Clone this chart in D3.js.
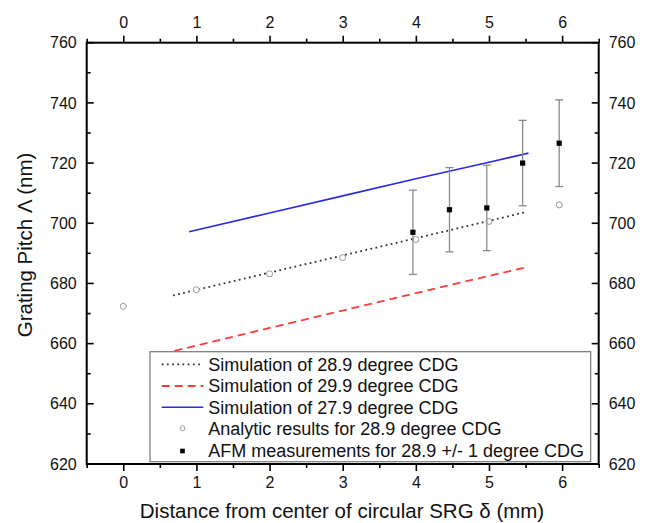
<!DOCTYPE html>
<html>
<head>
<meta charset="utf-8">
<script src="https://cdn.jsdelivr.net/npm/d3@7"></script>
<style>
  html, body { margin: 0; padding: 0; background: #fff; }
  svg { display: block; font-family: "Liberation Sans", Arial, sans-serif; }
</style>
</head>
<body>
<svg id="chart" width="652" height="523"></svg>
<script>
// grating pitch vs distance from centre — three simulated CDG curves,
// analytic points and AFM measurements with error bars

const xTicks = [0, 1, 2, 3, 4, 5, 6];
const yTicks = [620, 640, 660, 680, 700, 720, 740, 760];

const sim289 = [[0.68, 676.0], [2, 683.6], [3, 689.3], [4, 695.0], [5, 700.8], [5.5, 703.7]];
const sim299 = [[0.7, 657.6], [2, 665.2], [3, 671.0], [4, 676.8], [5, 682.5], [5.5, 685.3]];
const sim279 = [[0.9, 697.2], [2, 703.4], [3, 709.1], [4, 714.8], [5, 720.3], [5.54, 723.3]];

const analyticX = [0, 1, 2, 3, 4, 5, 5.96];
const analyticY = [672.4, 677.9, 683.2, 688.6, 694.6, 700.6, 706.1];

const afmX = [3.96, 4.46, 4.97, 5.46, 5.96];
const afmY = [697.0, 704.5, 705.1, 720.0, 726.6];
const afmErr = [14.0, 14.0, 14.2, 14.2, 14.4];

const legendLabels = [
  "Simulation of 28.9 degree CDG",
  "Simulation of 29.9 degree CDG",
  "Simulation of 27.9 degree CDG",
  "Analytic results for 28.9 degree CDG",
  "AFM measurements for 28.9 +/- 1 degree CDG",
];

const svg = d3.select("#chart");
const L = 86.7, R = 598.7, T = 42.7, B = 464;
const x = d3.scaleLinear().domain([-0.5, 6.5]).range([L, R]);
const y = d3.scaleLinear().domain([620, 760]).range([B, T]);

const BLUE = "#2a2ae6", RED = "#ff3b3b", DOT = "#333", GREY = "#8a8a8a";
const tickFont = "16px 'Liberation Sans', Arial, sans-serif";

// axes: x ticks point out, y ticks point in
const xMinor = d3.range(-0.5, 6.51, 0.5);
const yMinor = d3.range(630, 760, 20);

function styleAxis(g) {
  g.select(".domain").remove();
  g.selectAll("line").attr("stroke", "#000").attr("stroke-width", 1.6);
  g.selectAll("text").style("font", tickFont).attr("fill", "#111");
}

svg.append("g").attr("transform", `translate(0,${B})`)
  .call(d3.axisBottom(x).tickValues(xTicks).tickFormat(d3.format("d")).tickSize(7).tickPadding(6))
  .call(styleAxis);
svg.append("g").attr("transform", `translate(0,${T})`)
  .call(d3.axisTop(x).tickValues(xTicks).tickFormat(d3.format("d")).tickSize(7).tickPadding(8))
  .call(styleAxis);
svg.append("g").attr("transform", `translate(0,${B})`)
  .call(d3.axisBottom(x).tickValues(xMinor.filter(v => !xTicks.includes(v))).tickFormat("").tickSize(4))
  .call(styleAxis);
svg.append("g").attr("transform", `translate(0,${T})`)
  .call(d3.axisTop(x).tickValues(xMinor.filter(v => !xTicks.includes(v))).tickFormat("").tickSize(4))
  .call(styleAxis);

svg.append("g").attr("transform", `translate(${L},0)`)
  .call(d3.axisLeft(y).tickValues(yTicks).tickSize(0).tickPadding(10)).call(styleAxis);
svg.append("g").attr("transform", `translate(${R},0)`)
  .call(d3.axisRight(y).tickValues(yTicks).tickSize(0).tickPadding(10)).call(styleAxis);

// inward y ticks
const yTickG = svg.append("g").attr("stroke", "#000").attr("stroke-width", 1.6);
for (const [v, len] of [...yTicks.map(v => [v, 7]), ...yMinor.map(v => [v, 4])]) {
  yTickG.append("line").attr("x1", L).attr("x2", L + len).attr("y1", y(v)).attr("y2", y(v));
  yTickG.append("line").attr("x1", R).attr("x2", R - len).attr("y1", y(v)).attr("y2", y(v));
}

// frame
svg.append("rect").attr("x", L).attr("y", T).attr("width", R - L).attr("height", B - T)
  .attr("fill", "none").attr("stroke", "#000").attr("stroke-width", 2);

// axis titles
svg.append("text").attr("x", 342).attr("y", 518).attr("text-anchor", "middle")
  .style("font", "20.5px 'Liberation Sans', Arial, sans-serif").attr("fill", "#111")
  .text("Distance from center of circular SRG δ (mm)");
svg.append("text").attr("transform", "translate(32,245) rotate(-90)").attr("text-anchor", "middle")
  .style("font", "20.5px 'Liberation Sans', Arial, sans-serif").attr("fill", "#111")
  .text("Grating Pitch Λ (nm)");

// simulation curves
const line = d3.line().x(d => x(d[0])).y(d => y(d[1]));
const plot = svg.append("g");
plot.append("path").attr("d", line(sim299)).attr("fill", "none")
  .attr("stroke", RED).attr("stroke-width", 1.8).attr("stroke-dasharray", "8,5");
plot.append("path").attr("d", line(sim289)).attr("fill", "none")
  .attr("stroke", DOT).attr("stroke-width", 1.8).attr("stroke-dasharray", "1.8,3.4");
plot.append("path").attr("d", line(sim279)).attr("fill", "none")
  .attr("stroke", BLUE).attr("stroke-width", 1.6);

// analytic results
plot.selectAll(".an").data(analyticX).join("circle")
  .attr("cx", d => x(d)).attr("cy", (d, i) => y(analyticY[i])).attr("r", 3)
  .attr("fill", "#fff").attr("stroke", "#999").attr("stroke-width", 1);

// AFM error bars + squares
const eb = plot.append("g").attr("stroke", GREY).attr("stroke-width", 1.3);
afmX.forEach((v, i) => {
  const cx = x(v), y0 = y(afmY[i] - afmErr[i]), y1 = y(afmY[i] + afmErr[i]);
  eb.append("line").attr("x1", cx).attr("x2", cx).attr("y1", y0).attr("y2", y1);
  eb.append("line").attr("x1", cx - 4).attr("x2", cx + 4).attr("y1", y0).attr("y2", y0);
  eb.append("line").attr("x1", cx - 4).attr("x2", cx + 4).attr("y1", y1).attr("y2", y1);
});
plot.selectAll(".afm").data(afmX).join("rect")
  .attr("x", d => x(d) - 2.6).attr("y", (d, i) => y(afmY[i]) - 2.6)
  .attr("width", 5.2).attr("height", 5.2).attr("fill", "#000");

// legend
const lg = svg.append("g");
lg.append("rect").attr("x", 150).attr("y", 351.7).attr("width", 440.7).attr("height", 110)
  .attr("fill", "#fff").attr("stroke", "#777").attr("stroke-width", 1.2);
const rowY = [364.3, 386, 407.3, 428.3, 451];
const lx0 = 161.7, lx1 = 203.3, lxm = 182.5;
lg.append("line").attr("x1", lx0).attr("x2", lx1).attr("y1", rowY[0]).attr("y2", rowY[0])
  .attr("stroke", DOT).attr("stroke-width", 1.8).attr("stroke-dasharray", "1.8,3.4");
lg.append("line").attr("x1", lx0).attr("x2", lx1).attr("y1", rowY[1]).attr("y2", rowY[1])
  .attr("stroke", RED).attr("stroke-width", 1.8).attr("stroke-dasharray", "8,5");
lg.append("line").attr("x1", lx0).attr("x2", lx1).attr("y1", rowY[2]).attr("y2", rowY[2])
  .attr("stroke", BLUE).attr("stroke-width", 1.6);
lg.append("circle").attr("cx", lxm).attr("cy", rowY[3]).attr("r", 2.5)
  .attr("fill", "#fff").attr("stroke", "#999");
lg.append("rect").attr("x", lxm - 2.3).attr("y", rowY[4] - 2.3).attr("width", 4.6).attr("height", 4.6)
  .attr("fill", "#000");
lg.selectAll(".lt").data(legendLabels).join("text")
  .attr("x", 208.3).attr("y", (d, i) => rowY[i]).attr("dy", "0.36em")
  .style("font", "18px 'Liberation Sans', Arial, sans-serif").attr("fill", "#111")
  .text(d => d);
</script>
</body>
</html>
